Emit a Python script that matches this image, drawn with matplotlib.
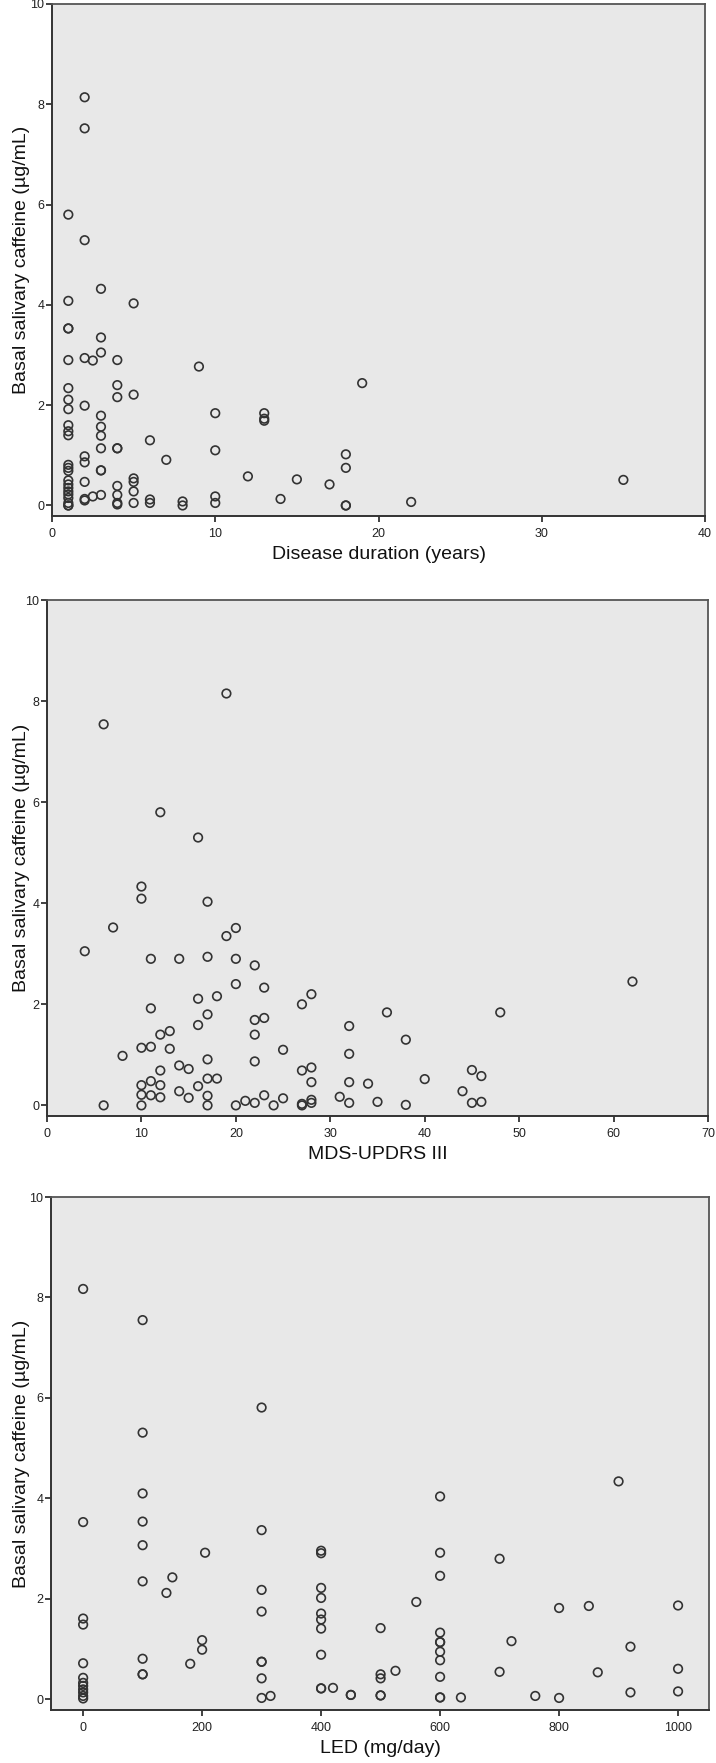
import matplotlib
matplotlib.use('Agg')
import matplotlib.pyplot as plt

plt.rcParams['font.family'] = ['Liberation Sans', 'DejaVu Sans']

# disease duration (years) vs basal salivary caffeine
dur_x = [1]*23 + [2]*10 + [2.5]*2 + [3]*10 + [4]*9 + [5]*6 + [6]*3 + [7] + [8]*2 + [9] + [10]*4 \
    + [12] + [13]*3 + [14] + [15] + [17] + [18]*4 + [19] + [22] + [35]
dur_y = [5.80, 4.08, 3.53, 3.53, 2.90, 2.34, 2.11, 1.92, 1.60, 1.48, 1.40, 0.81, 0.75, 0.69,
         0.50, 0.42, 0.35, 0.28, 0.22, 0.15, 0.05, 0.0, 0.0,
         8.14, 7.52, 5.29, 2.94, 1.99, 0.98, 0.86, 0.47, 0.13, 0.10,
         2.89, 0.18,
         4.32, 3.35, 3.05, 1.79, 1.57, 1.39, 1.14, 0.70, 0.70, 0.21,
         2.90, 2.40, 2.16, 1.14, 1.14, 0.39, 0.21, 0.05, 0.02,
         4.03, 2.21, 0.54, 0.47, 0.28, 0.05,
         1.30, 0.12, 0.05,
         0.91,
         0.08, 0.0,
         2.77,
         1.84, 1.10, 0.18, 0.05,
         0.58,
         1.84, 1.73, 1.69,
         0.13,
         0.52,
         0.42,
         1.02, 0.75, 0.0, 0.0,
         2.44,
         0.07,
         0.51]

# MDS-UPDRS III vs caffeine
upd_x = [19, 6, 12, 16, 10, 10, 17, 7, 20, 19, 4, 11, 14, 17, 20, 22, 20, 23, 16, 18, 27, 28,
         11, 17, 16, 22, 23, 22, 32, 12, 13, 10, 11, 13, 8, 25, 32, 17, 22, 14, 15, 12, 27, 28,
         17, 18, 10, 11, 12, 16, 28, 32, 34, 14, 15, 10, 11, 12, 17, 23, 21, 22, 24, 25, 27, 27,
         28, 28, 31, 32, 6, 10, 17, 20,
         35, 36, 38, 38, 40, 44, 45, 46, 45, 46, 48, 62]
upd_y = [8.15, 7.54, 5.80, 5.30, 4.33, 4.09, 4.03, 3.52, 3.51, 3.35, 3.05, 2.90, 2.90, 2.94,
         2.90, 2.77, 2.40, 2.33, 2.11, 2.16, 2.00, 2.20,
         1.92, 1.80, 1.59, 1.69, 1.73, 1.40, 1.57, 1.40, 1.47, 1.14, 1.16, 1.12, 0.98, 1.10,
         1.02, 0.91, 0.87, 0.79, 0.72, 0.69, 0.69, 0.75,
         0.53, 0.53, 0.40, 0.48, 0.40, 0.38, 0.46, 0.46, 0.43, 0.28, 0.15, 0.21, 0.20, 0.16,
         0.19, 0.20, 0.09, 0.05, 0.0, 0.14, 0.03, 0.0,
         0.11, 0.05, 0.17, 0.05, 0.0, 0.0, 0.0, 0.0,
         0.07, 1.84, 1.30, 0.01, 0.52, 0.28, 0.70, 0.58, 0.05, 0.07, 1.84, 2.45]

# LED (mg/day) vs caffeine
led_x = [0]*12 + [100]*9 + [140, 150, 180, 200, 200, 205] + [300]*8 + [315] \
    + [400]*9 + [400, 420, 450, 450] + [500]*5 + [525, 560] + [600]*11 \
    + [635, 700, 700, 720, 760, 800, 800, 850, 865, 900, 920, 920, 1000, 1000, 1000]
led_y = [8.17, 3.53, 1.61, 1.49, 0.72, 0.43, 0.33, 0.27, 0.20, 0.14, 0.07, 0.02,
         7.55, 5.31, 4.10, 3.54, 3.07, 2.35, 0.81, 0.50, 0.50,
         2.12, 2.43, 0.71, 1.18, 0.99, 2.92,
         5.81, 3.37, 2.18, 1.75, 0.75, 0.75, 0.42, 0.03, 0.07,
         2.96, 2.91, 2.22, 2.02, 1.71, 1.59, 1.41, 0.89, 0.22, 0.22, 0.23, 0.09, 0.09,
         1.42, 0.50, 0.42, 0.08, 0.08, 0.57, 1.94,
         4.04, 2.92, 2.46, 1.33, 1.14, 1.14, 0.95, 0.78, 0.45, 0.04, 0.04,
         0.04, 2.80, 0.55, 1.16, 0.07, 1.82, 0.03, 1.86, 0.54, 4.34, 1.05, 0.14, 1.87, 0.61, 0.16]

ylab = 'Basal salivary caffeine (µg/mL)'
W, H = 716, 1763

panels = [
    (dur_x, dur_y, 'Disease duration (years)', (0, 40), [0, 10, 20, 30, 40], (52, 705, 4, 516)),
    (upd_x, upd_y, 'MDS-UPDRS III', (0, 70), list(range(0, 71, 10)), (47, 708, 600, 1116)),
    (led_x, led_y, 'LED (mg/day)', (-54, 1052), [0, 200, 400, 600, 800, 1000], (51, 709, 1197, 1710)),
]

fig = plt.figure(figsize=(W / 100, H / 100), dpi=100)

for xs, ys, xlab, xlim, xticks, (l, r, t, b) in panels:
    ax = fig.add_axes([l / W, 1 - b / H, (r - l) / W, (b - t) / H])
    ax.set_facecolor('#e8e8e8')
    ax.scatter(xs, ys, s=38, facecolors='none', edgecolors='#333333', linewidths=1.2, zorder=3)
    ax.set_xlim(*xlim)
    ax.set_ylim(-0.21, 10)
    ax.set_xticks(xticks)
    ax.set_yticks([0, 2, 4, 6, 8, 10])
    ax.tick_params(direction='out', length=4.5, width=1.3, colors='#333333',
                   labelsize=9, labelcolor='#222222')
    ax.tick_params(axis='x', pad=4)
    ax.tick_params(axis='y', pad=1)
    for side in ['left', 'bottom']:
        ax.spines[side].set_color('#333333')
        ax.spines[side].set_linewidth(1.4)
    for side in ['top', 'right']:
        ax.spines[side].set_color('#555555')
        ax.spines[side].set_linewidth(1.3)
    ax.set_xlabel(xlab, fontsize=14, color='#111111')
    ax.set_ylabel(ylab, fontsize=14, color='#111111')
    ax.xaxis.set_label_coords(0.5, -30 / (b - t))
    ax.yaxis.set_label_coords(-(l - 30) / (r - l), 0.5)

fig.savefig('out.png', dpi=100)
